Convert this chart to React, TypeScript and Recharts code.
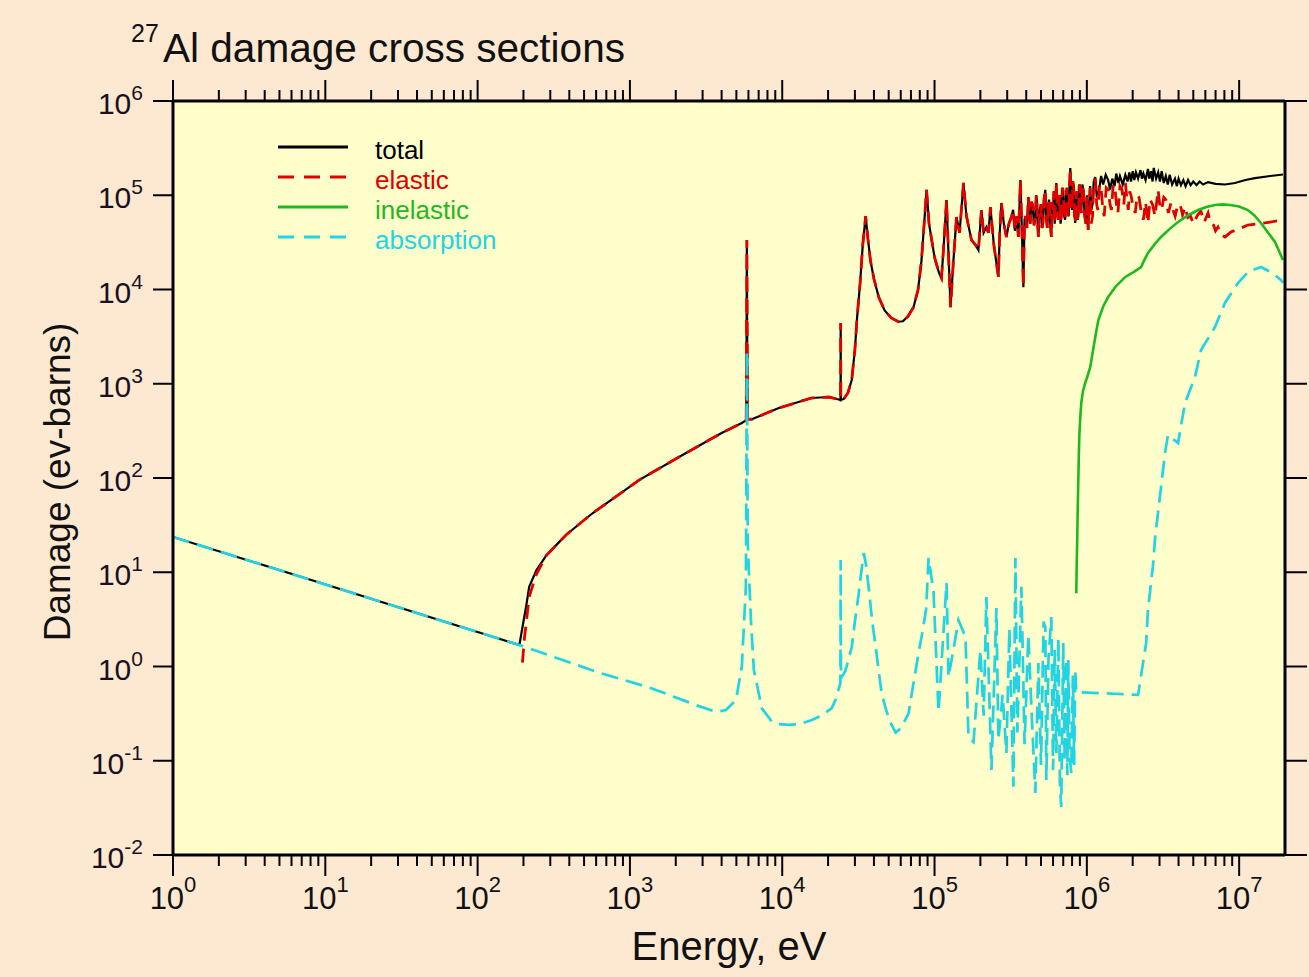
import React from "react";
import { LineChart, Line, XAxis, YAxis, CartesianGrid, Legend, Label } from "recharts";

const FONT = '"Liberation Sans", Arial, Helvetica, sans-serif';

// energy (eV), damage (eV-barns)
const absorption: [number, number][] = [
  [1, 23.7], [188, 1.69], [628, 0.86], [1336, 0.6], [2840, 0.38], [3670, 0.33], [4270, 0.345],
  [4970, 0.44], [5430, 1.0], [5770, 7], [5860, 2170], [5940, 20], [6230, 3.1], [6510, 0.92],
  [7350, 0.36], [8550, 0.26], [9500, 0.245], [11000, 0.24], [13000, 0.245], [15630, 0.27],
  [18000, 0.3], [21100, 0.36], [22500, 0.45], [24100, 0.67], [24200, 13.5], [24300, 0.75],
  [26000, 0.9], [28600, 1.6], [30000, 3], [31800, 6], [33000, 10], [34300, 16], [35500, 12],
  [36900, 7], [39000, 3], [41100, 1.6], [44900, 0.52], [48000, 0.35], [51000, 0.26],
  [55500, 0.2], [60000, 0.22], [67600, 0.32], [72000, 0.6], [78500, 1.39], [82200, 2.05],
  [88000, 4], [91400, 14.2], [98500, 6.17], [106200, 0.33], [119900, 7.7], [123500, 0.774],
  [133000, 1.5], [143600, 3.11], [159700, 2.05], [167000, 0.179], [180200, 0.158], [200000, 1.5],
  [210000, 0.3], [219000, 5.46], [236400, 0.08], [254800, 4.17], [262500, 0.166], [280000, 0.5],
  [296300, 0.121], [310000, 2.5], [329400, 0.053], [339500, 14.2], [350000, 0.2], [371700, 7.0],
  [390000, 0.15], [413000, 2.16], [435000, 0.3], [459000, 0.0455], [480500, 1.09], [500000, 0.09],
  [520000, 3.0], [533700, 2.62], [542000, 0.0625], [560000, 1.2], [584500, 3.35], [600000, 0.08],
  [615000, 1.5], [630500, 0.121], [650000, 2.0], [665000, 0.06], [679000, 0.0323], [700000, 1.77],
  [715000, 0.1], [730000, 1.2], [745000, 0.07], [755000, 1.17], [770000, 0.12], [790000, 0.0741],
  [810000, 0.8], [825000, 0.09], [839500, 0.918], [852500, 0.536], [1.19e6, 0.523],
  [2.17e6, 0.499], [2.45e6, 1.77], [2.52e6, 3.98], [2.72e6, 11.9], [2.81e6, 23.7], [3.26e6, 184],
  [3.41e6, 286], [3.97e6, 235], [4.41e6, 625], [5.13e6, 1180], [5.62e6, 2280], [6.94e6, 4000],
  [8.07e6, 7190], [9.82e6, 11700], [1.15e7, 15500], [1.39e7, 17300], [1.65e7, 15000],
  [1.88e7, 12600], [1.94e7, 11800],
];

const elastic: [number, number][] = [
  [197, 1.1], [203, 2.0], [209, 3.0], [218, 5.5], [243, 9.5], [282, 15], [344, 21], [382, 25],
  [565, 42], [1148, 95], [2335, 184], [4000, 300], [5430, 383], [5800, 410], [5830, 3000],
  [5860, 33500], [5890, 3000], [5920, 420], [6320, 420], [9500, 553], [15600, 706], [20200, 723],
  [23500, 680], [24150, 672], [24200, 4410], [24250, 672], [25400, 690], [27000, 800],
  [28600, 1097], [30000, 2300], [31000, 5000], [32500, 12000], [33800, 30000], [35300, 60000],
  [36500, 35000], [38000, 20000], [40000, 13000], [43000, 8300], [47000, 6000], [52000, 5000],
  [58000, 4550], [62000, 4600], [67000, 5200], [72800, 6500], [78000, 10000], [82000, 20000],
  [85500, 50000], [88700, 114000], [92000, 50000], [100000, 22000], [107000, 15000],
  [111100, 13200], [115000, 30000], [119900, 89100], [124000, 20000], [127400, 6500],
  [133000, 20000], [139400, 58700], [146000, 40000], [154900, 135000], [162000, 60000],
  [174800, 33500], [185000, 30000], [194100, 26200], [203200, 69700], [210000, 40000],
  [219000, 46000], [226000, 40000], [232800, 75000], [245000, 30000], [262500, 13600],
  [268000, 40000], [274800, 82800], [285000, 50000], [296300, 36100], [308000, 50000],
  [319700, 58700], [328000, 70000], [337000, 42000], [346000, 60000], [355100, 36100],
  [366300, 145000], [375000, 40000], [383000, 10600], [390000, 55000], [395000, 60000],
  [405000, 45000], [413000, 95700], [420000, 60000], [425000, 50000], [432000, 85000],
  [440000, 80000], [450000, 48000], [459000, 58700], [465000, 100000], [470000, 90000],
  [475000, 50000], [480500, 36100], [490000, 70000], [500000, 80000], [508000, 45000],
  [515000, 50000], [523000, 90000], [533700, 114000], [540000, 60000], [550000, 45000],
  [558000, 80000], [565000, 90000], [575000, 50000], [584500, 36100], [592000, 85000],
  [600000, 70000], [608000, 110000], [615000, 50000], [622000, 75000], [630500, 135000],
  [640000, 65000], [650000, 55000], [658000, 95000], [665000, 100000], [672000, 50000],
  [679000, 58700], [690000, 120000], [700000, 110000], [710000, 60000], [720000, 55000],
  [730000, 100000], [740000, 120000], [750000, 65000], [760000, 60000], [770000, 130000],
  [778700, 194600], [790000, 80000], [800000, 70000], [810000, 140000], [820000, 120000],
  [830000, 60000], [839500, 50800], [850000, 90000], [860000, 110000], [870000, 55000],
  [880000, 60000], [890000, 125000], [900000, 130000], [910000, 70000], [919000, 64900],
  [935000, 130000], [950000, 110000], [968000, 60000], [985000, 50000], [1.0e6, 100000],
  [1.02e6, 42800], [1.05e6, 120000], [1.07e6, 50000], [1.09e6, 60000], [1.11e6, 130000],
  [1.135e6, 150000], [1.16e6, 80000], [1.18e6, 70000], [1.21e6, 130000], [1.24e6, 120000],
  [1.27e6, 75000], [1.3e6, 60000], [1.34e6, 120000], [1.38e6, 114000], [1.42e6, 80000],
  [1.45e6, 70000], [1.49e6, 130000], [1.53e6, 120000], [1.57e6, 75000], [1.6e6, 65000],
  [1.65e6, 125000], [1.7e6, 115000], [1.75e6, 80000], [1.79e6, 135000], [1.83e6, 95000],
  [1.87e6, 70000], [1.91e6, 110000], [1.95e6, 100000], [2.01e6, 75000], [2.08e6, 64900],
  [2.14e6, 100000], [2.2e6, 95000], [2.28e6, 65000], [2.35e6, 55000], [2.43e6, 85000],
  [2.52e6, 50800], [2.6e6, 90000], [2.7e6, 80000], [2.8e6, 60000], [2.94e6, 113800],
  [3.02e6, 75000], [3.1e6, 70000], [3.2e6, 95000], [3.3e6, 90000], [3.43e6, 65000],
  [3.57e6, 82800], [3.7e6, 68000], [3.8e6, 60000], [3.95e6, 78000], [4.1e6, 80000],
  [4.25e6, 62000], [4.41e6, 75000], [4.6e6, 58000], [4.8e6, 60000], [5.0e6, 50000],
  [5.13e6, 54600], [5.35e6, 62000], [5.6e6, 68000], [5.9e6, 52000], [6.25e6, 64900],
  [6.5e6, 50000], [6.8e6, 48000], [7.0e6, 42000], [7.26e6, 46000], [7.6e6, 38000],
  [8.07e6, 36100], [8.83e6, 40700], [1.0e7, 44000], [1.14e7, 48300], [1.476e7, 50800],
  [1.94e7, 54600],
];

const inelastic: [number, number][] = [
  [852500, 6.0], [858000, 12], [865000, 23.7], [872000, 50], [879000, 95], [886000, 170],
  [892000, 272], [905000, 430], [919000, 625], [945000, 850], [976000, 1020], [1.01e6, 1200],
  [1.053e6, 1510], [1.1e6, 2300], [1.15e6, 3500], [1.19e6, 4750], [1.28e6, 6600],
  [1.38e6, 8320], [1.55e6, 10800], [1.79e6, 13600], [2.05e6, 15500], [2.27e6, 17300],
  [2.4e6, 21000], [2.52e6, 24400], [2.8e6, 30500], [3.07e6, 36100], [3.5e6, 44000],
  [3.97e6, 52000], [4.6e6, 61000], [5.37e6, 69700], [6.1e6, 75000], [6.94e6, 78800],
  [7.8e6, 80000], [8.71e6, 78800], [1.0e7, 76000], [1.14e7, 69700], [1.26e7, 61000],
  [1.39e7, 50800], [1.55e7, 40000], [1.72e7, 31900], [1.94e7, 20600],
];

// total below the elastic threshold and above the inelastic threshold
const totalLow: [number, number][] = [
  [1, 23.7], [188, 1.69], [200, 3.0], [209, 4.5], [218, 7.0], [243, 10.5],
];
const totalHigh: [number, number][] = [
  [1.05e6, 125000], [1.07e6, 70000], [1.09e6, 80000], [1.11e6, 140000], [1.135e6, 156000],
  [1.16e6, 100000], [1.2e6, 110000], [1.24e6, 160000], [1.28e6, 130000], [1.33e6, 165000],
  [1.38e6, 145000], [1.42e6, 115000], [1.47e6, 150000], [1.52e6, 125000], [1.56e6, 170000],
  [1.61e6, 135000], [1.65e6, 160000], [1.72e6, 130000], [1.79e6, 165000], [1.85e6, 140000],
  [1.9e6, 175000], [1.95e6, 140000], [2.0e6, 180000], [2.05e6, 145000], [2.1e6, 175000],
  [2.17e6, 150000], [2.25e6, 185000], [2.3e6, 150000], [2.35e6, 170000], [2.43e6, 145000],
  [2.52e6, 190000], [2.57e6, 150000], [2.64e6, 180000], [2.7e6, 140000], [2.75e6, 195000],
  [2.85e6, 150000], [2.94e6, 175000], [3.02e6, 140000], [3.1e6, 180000], [3.2e6, 135000],
  [3.3e6, 160000], [3.4e6, 130000], [3.5e6, 165000], [3.63e6, 130000], [3.79e6, 150000],
  [3.9e6, 125000], [4.0e6, 150000], [4.15e6, 128000], [4.3e6, 145000], [4.45e6, 125000],
  [4.62e6, 145000], [4.8e6, 128000], [5.0e6, 140000], [5.25e6, 128000], [5.5e6, 140000],
  [5.8e6, 130000], [6.25e6, 138000], [7.0e6, 132000], [8.07e6, 130000], [9.38e6, 135000],
  [1.1e7, 145000], [1.27e7, 152000], [1.6e7, 160000], [1.94e7, 166000],
];
const total: [number, number][] = [
  ...totalLow,
  ...elastic.filter(([e]) => e >= 282 && e <= 1.02e6),
  ...totalHigh,
];

const seriesNames = ["total", "elastic", "inelastic", "absorption"];
const xDecades = [1, 10, 100, 1e3, 1e4, 1e5, 1e6, 1e7];
const xMinor = xDecades.slice(0, 7).flatMap((d) => [2, 3, 4, 5, 6, 7, 8, 9].map((m) => m * d));
const xTicks = [...xDecades, ...xMinor].sort((a, b) => a - b);
const yDecades = [1e-2, 1e-1, 1, 10, 100, 1e3, 1e4, 1e5, 1e6];

const colors: Record<string, string> = {
  total: "#000000",
  elastic: "#e00000",
  inelastic: "#1fb81f",
  absorption: "#22d3e3",
};
const dashes: Record<string, string | undefined> = {
  total: undefined,
  elastic: "14 8",
  inelastic: undefined,
  absorption: "17 8",
};

const pts = (rows: [number, number][]) => rows.map(([x, y]) => ({ x, y }));

const expOf = (v: number) => Math.round(Math.log10(v));
const isMajor = (v: number) => Math.abs(Math.log10(v) - expOf(v)) < 1e-9;

const XTick = (props: any, top: boolean) => {
  const { x, y, payload } = props;
  const v = payload.value;
  const major = isMajor(v);
  const dir = top ? -1 : 1;
  return (
    <g>
      <line x1={x} x2={x} y1={y} y2={y + dir * (major ? 21 : 11)} stroke="#000" strokeWidth={2} />
      {major && !top && (
        <text x={x} y={y + 54} textAnchor="middle" fontSize={31} fill="#111" fontFamily={FONT}>
          10
          <tspan dy={-17} fontSize={22}>{expOf(v)}</tspan>
        </text>
      )}
    </g>
  );
};

const YTick = (props: any, right: boolean) => {
  const { x, y, payload } = props;
  const v = payload.value;
  return (
    <g>
      <line x1={x} x2={x + (right ? 22 : -20)} y1={y} y2={y} stroke="#000" strokeWidth={2} />
      {!right && (
        <text x={x - 30} y={y + 13} textAnchor="end" fontSize={30} fill="#1a1020" fontFamily={FONT}>
          10
          <tspan dy={-14} fontSize={21}>{expOf(v)}</tspan>
        </text>
      )}
    </g>
  );
};

const TitleText = () => (
  <g fontFamily={FONT} fill="#111">
    <text x={131} y={42} fontSize={25}>27</text>
    <text x={163} y={62} fontSize={41} textLength={462} lengthAdjust="spacingAndGlyphs">
      Al damage cross sections
    </text>
  </g>
);

const XTitle = () => (
  <text x={729} y={960} textAnchor="middle" fontSize={40} fill="#111" fontFamily={FONT}>
    Energy, eV
  </text>
);

const YTitle = () => (
  <text
    transform="translate(70,482) rotate(-90)"
    textAnchor="middle"
    fontSize={37}
    fill="#111"
    fontFamily={FONT}
  >
    Damage (ev-barns)
  </text>
);

const LegendBox = () => (
  <svg width={260} height={125}>
    {seriesNames.map((name, i) => (
      <g key={name}>
        <line
          x1={8}
          x2={78}
          y1={17 + i * 30}
          y2={17 + i * 30}
          stroke={colors[name]}
          strokeWidth={3}
          strokeDasharray={dashes[name] ? "16 10" : undefined}
        />
        <text x={105} y={29 + i * 30} fontSize={26} fill={colors[name]} fontFamily={FONT}>
          {name}
        </text>
      </g>
    ))}
  </svg>
);

const series: [string, [number, number][], number][] = [
  ["total", total, 2.2],
  ["elastic", elastic, 2.8],
  ["inelastic", inelastic, 2.6],
  ["absorption", absorption, 2.7],
];

export default function App() {
  return (
    <div
      style={{
        position: "absolute",
        left: 0,
        top: 0,
        width: 1309,
        height: 977,
        background: "#fde9d1",
        fontFamily: FONT,
      }}
    >
      <LineChart width={1309} height={977} margin={{ top: 71, right: 4, bottom: 92, left: 113 }}>
        <CartesianGrid xAxisId="b" yAxisId="l" fill="#ffffcc" stroke="none" horizontal={false} vertical={false} />
        <XAxis
          xAxisId="b"
          dataKey="x"
          type="number"
          scale="log"
          domain={[1, 2e7]}
          allowDataOverflow
          ticks={xTicks}
          interval={0}
          height={30}
          tickSize={0}
          tickMargin={0}
          tickLine={false}
          axisLine={{ stroke: "#000", strokeWidth: 3 }}
          tick={(p: any) => XTick(p, false)}
          label={<Label content={XTitle} />}
        />
        <XAxis
          xAxisId="t"
          orientation="top"
          dataKey="x"
          type="number"
          scale="log"
          domain={[1, 2e7]}
          allowDataOverflow
          ticks={xTicks}
          interval={0}
          height={30}
          tickSize={0}
          tickMargin={0}
          tickLine={false}
          axisLine={{ stroke: "#000", strokeWidth: 3 }}
          tick={(p: any) => XTick(p, true)}
          label={<Label content={TitleText} />}
        />
        <YAxis
          yAxisId="l"
          type="number"
          scale="log"
          domain={[1e-2, 1e6]}
          allowDataOverflow
          ticks={yDecades}
          interval={0}
          width={60}
          tickSize={0}
          tickMargin={0}
          tickLine={false}
          axisLine={{ stroke: "#000", strokeWidth: 3 }}
          tick={(p: any) => YTick(p, false)}
          label={<Label content={YTitle} />}
        />
        <YAxis
          yAxisId="r"
          orientation="right"
          type="number"
          scale="log"
          domain={[1e-2, 1e6]}
          allowDataOverflow
          ticks={yDecades}
          interval={0}
          width={20}
          tickSize={0}
          tickMargin={0}
          tickLine={false}
          axisLine={{ stroke: "#000", strokeWidth: 3 }}
          tick={(p: any) => YTick(p, true)}
        />
        <Legend
          layout="horizontal"
          verticalAlign="middle"
          align="center"
          content={() => <LegendBox />}
          wrapperStyle={{ position: "absolute", left: 270, top: 130, width: 260, height: 125 }}
        />
        {series.map(([name, rows, w]) => (
          <Line
            key={name}
            name={name}
            data={pts(rows)}
            dataKey="y"
            xAxisId="b"
            yAxisId="l"
            type="linear"
            stroke={colors[name]}
            strokeWidth={w}
            strokeDasharray={dashes[name]}
            dot={false}
            activeDot={false}
            isAnimationActive={false}
          />
        ))}
      </LineChart>
    </div>
  );
}
